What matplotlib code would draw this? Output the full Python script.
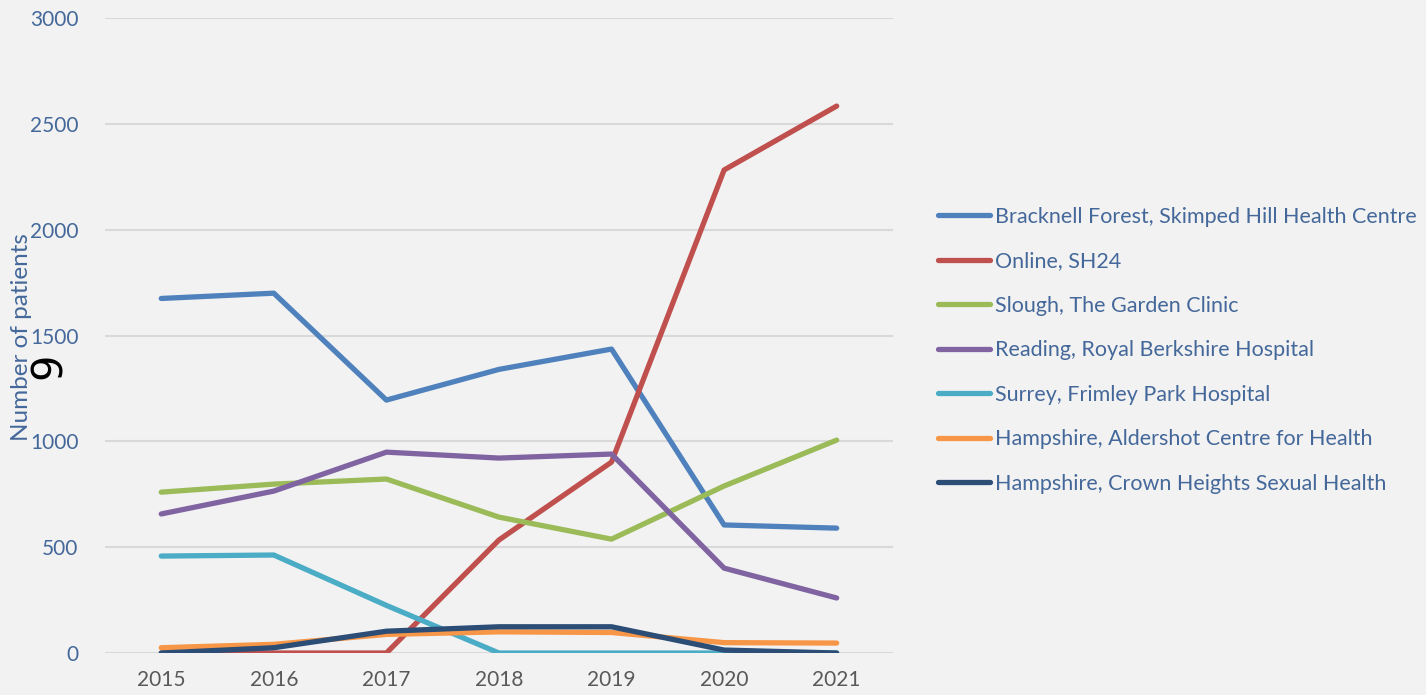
import matplotlib.pyplot as plt

# ------------------------------------------------------------------
# Data
# ------------------------------------------------------------------
years = [2015, 2016, 2017, 2018, 2019, 2020, 2021]

bracknell = [1675, 1700, 1195, 1340, 1436, 605, 590]
online = [0, 0, 0, 534, 902, 2282, 2584]
slough = [760, 798, 822, 642, 538, 789, 1006]
reading = [657, 765, 949, 921, 940, 401, 260]
surrey = [458, 463, 225, 0, 0, 0, 0]
aldershot = [25, 41, 88, 100, 97, 49, 47]
crown_heights = [0, 25, 103, 124, 124, 14, 0]

series_names = [
    'Bracknell Forest, Skimped Hill Health Centre',
    'Online, SH24',
    'Slough, The Garden Clinic',
    'Reading, Royal Berkshire Hospital',
    'Surrey, Frimley Park Hospital',
    'Hampshire, Aldershot Centre for Health',
    'Hampshire, Crown Heights Sexual Health',
]
series_values = [bracknell, online, slough, reading, surrey, aldershot, crown_heights]
series_colors = ['#4F81BD', '#C0504D', '#9BBB59', '#8064A2', '#4BACC6', '#F79646', '#2C4D75']

BG = '#F2F2F2'
TEXT_BLUE = '#44689A'

plt.rcParams['font.family'] = ['Lato', 'DejaVu Sans']

fig = plt.figure(figsize=(14.26, 6.95), dpi=100, facecolor=BG)
ax = fig.add_axes([0.0736, 0.0604, 0.5526, 0.9137], facecolor=BG)

for name, vals, col in zip(series_names, series_values, series_colors):
    ax.plot(years, vals, color=col, lw=3.8, label=name, solid_capstyle='round',
            solid_joinstyle='round')

ax.set_xlim(2014.5, 2021.5)
ax.set_ylim(0, 3000)
ax.set_yticks(range(0, 3001, 500))
ax.set_xticks(years)
ax.yaxis.grid(True, color='#D9D9D9', lw=1.5)
ax.set_axisbelow(True)
for s in ax.spines.values():
    s.set_visible(False)
ax.tick_params(axis='both', length=0)
ax.tick_params(axis='y', labelsize=15, labelcolor=TEXT_BLUE, pad=19)
ax.tick_params(axis='x', labelsize=15, labelcolor='#595959', pad=12)

ax.set_ylabel('Number of patients', fontsize=17.5, color=TEXT_BLUE)
ax.yaxis.set_label_coords(-0.093, 0.497)

# stray page-number mark sitting on the axis label
fig.text(49 / 1426, 1 - 366 / 695, '9', rotation=90, fontsize=30, color='black',
         ha='center', va='center', family='DejaVu Sans')

leg = fig.legend(loc='upper left', bbox_to_anchor=(929 / 1426, 1 - 198 / 695),
                 frameon=False, fontsize=15.5, handlelength=2.42, handletextpad=0.25,
                 labelspacing=1.14, borderaxespad=0)
for t in leg.get_texts():
    t.set_color(TEXT_BLUE)

fig.savefig('out.png', dpi=100, facecolor=BG)
